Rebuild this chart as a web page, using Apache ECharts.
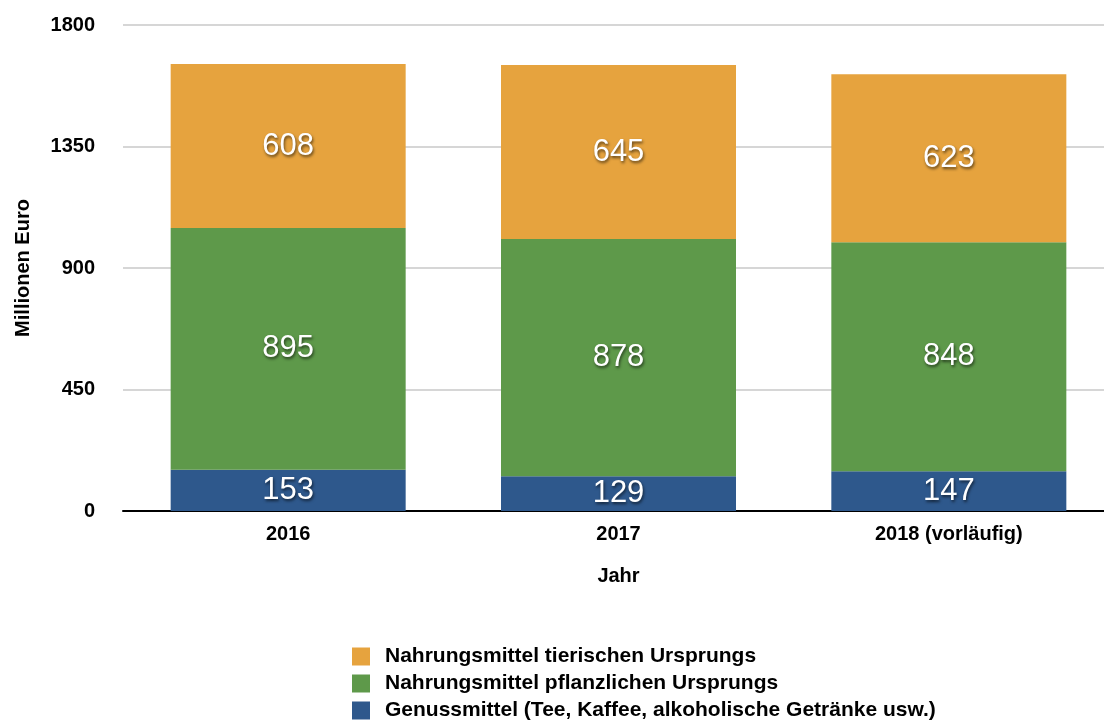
<!DOCTYPE html>
<html>
<head>
<meta charset="utf-8">
<script src="https://cdn.jsdelivr.net/npm/echarts@6/dist/echarts.min.js"></script>
<style>
  html, body { margin: 0; padding: 0; background: #fff; overflow: hidden; }
  #chart { width: 1114px; height: 780px; }
</style>
</head>
<body>
<div id="chart"></div>
<script>
const years = ['2016', '2017', '2018 (vorläufig)'];
const genussmittel = [153, 129, 147];
const pflanzlich = [895, 878, 848];
const tierisch = [608, 645, 623];
const yTicks = [0, 450, 900, 1350, 1800];

const chart = echarts.init(document.getElementById('chart'));
const font = 'Liberation Sans, Arial, sans-serif';

const label = {
    show: true,
    position: 'inside',
    color: '#fff',
    fontSize: 31,
    fontFamily: font,
    textShadowColor: 'rgba(0,0,0,0.6)',
    textShadowBlur: 3,
    textShadowOffsetX: 1,
    textShadowOffsetY: 2
};

const option = {
    animation: false,
    grid: { left: 123, right: 0, top: 25, height: 486 },
    legend: {
        orient: 'vertical',
        left: 352,
        top: 646,
        padding: 0,
        itemWidth: 18,
        itemHeight: 18,
        itemGap: 6,
        icon: 'rect',
        data: ['Nahrungsmittel tierischen Ursprungs', 'Nahrungsmittel pflanzlichen Ursprungs', 'Genussmittel (Tee, Kaffee, alkoholische Getränke usw.)'],
        textStyle: { fontSize: 21, fontWeight: 'bold', color: '#000', fontFamily: font, padding: [0, 0, 0, 10] }
    },
    xAxis: {
        type: 'category',
        data: years,
        name: 'Jahr',
        nameLocation: 'middle',
        nameGap: 55,
        nameTextStyle: { fontSize: 20, fontWeight: 'bold', color: '#000', fontFamily: font },
        axisTick: { show: false },
        axisLine: { lineStyle: { color: '#000', width: 2 } },
        axisLabel: { fontSize: 20, fontWeight: 'bold', color: '#000', fontFamily: font, margin: 13 }
    },
    yAxis: {
        type: 'value',
        min: yTicks[0],
        max: yTicks[yTicks.length - 1],
        interval: 450,
        name: 'Millionen Euro',
        nameLocation: 'middle',
        nameGap: 90,
        nameTextStyle: { fontSize: 20, fontWeight: 'bold', color: '#000', fontFamily: font },
        axisLine: { show: false },
        axisTick: { show: false },
        axisLabel: { fontSize: 20, fontWeight: 'bold', color: '#000', fontFamily: font, margin: 28, formatter: v => String(v) },
        splitLine: { lineStyle: { color: '#d6d6d6', width: 2 } }
    },
    series: [
        {
            name: 'Genussmittel (Tee, Kaffee, alkoholische Getränke usw.)',
            type: 'bar', stack: 'total', barWidth: 235,
            itemStyle: { color: '#2E588C' },
            label: label,
            data: genussmittel
        },
        {
            name: 'Nahrungsmittel pflanzlichen Ursprungs',
            type: 'bar', stack: 'total', barWidth: 235,
            itemStyle: { color: '#5E994A' },
            label: label,
            data: pflanzlich
        },
        {
            name: 'Nahrungsmittel tierischen Ursprungs',
            type: 'bar', stack: 'total', barWidth: 235,
            itemStyle: { color: '#E6A33E' },
            label: label,
            data: tierisch
        }
    ]
};
chart.setOption(option);
</script>
</body>
</html>
